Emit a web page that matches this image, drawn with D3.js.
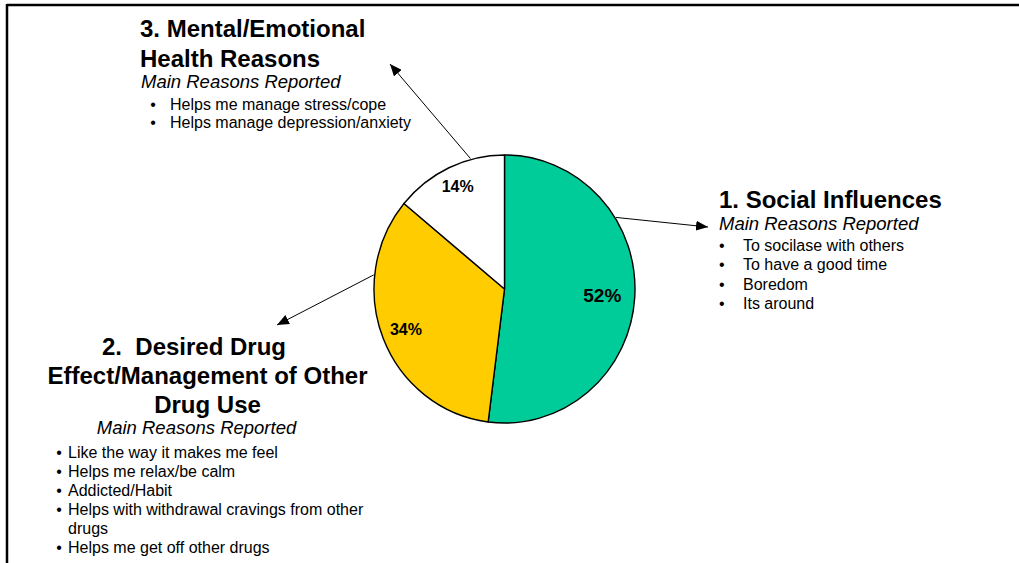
<!DOCTYPE html>
<html>
<head>
<meta charset="utf-8">
<script src="https://cdn.jsdelivr.net/npm/d3@7"></script>
<style>
  html, body { margin: 0; padding: 0; background: #fff; }
  svg { display: block; }
  text { font-family: "Liberation Sans", Arial, sans-serif; fill: #000; white-space: pre; }
</style>
</head>
<body>
<svg id="chart" width="1019" height="563"></svg>
<script>
// Reasons for use, share of respondents (%)
const categories = ["Social Influences", "Desired Drug Effect/Management of Other Drug Use", "Mental/Emotional Health Reasons"];
const values = [52, 34, 14];
const sliceColors = ["#00CC99", "#FFCC00", "#FFFFFF"];

// Callout text blocks
const socialTitle = ["1. Social Influences"];
const socialReasons = ["To socilase with others", "To have a good time", "Boredom", "Its around"];
const drugTitle = ["2.  Desired Drug", "Effect/Management of Other", "Drug Use"];
const drugReasons = [
  { text: "Like the way it makes me feel", bullet: true },
  { text: "Helps me relax/be calm", bullet: true },
  { text: "Addicted/Habit", bullet: true },
  { text: "Helps with withdrawal cravings from other", bullet: true },
  { text: "drugs", bullet: false },
  { text: "Helps me get off other drugs", bullet: true }
];
const mentalTitle = ["3. Mental/Emotional", "Health Reasons"];
const mentalReasons = ["Helps me manage stress/cope", "Helps manage depression/anxiety"];
const subTitle = "Main Reasons Reported";

const svg = d3.select("#chart");
const W = 1019, H = 563;

// frame lines (top and left)
svg.append("line").attr("x1", 7).attr("x2", W).attr("y1", 5).attr("y2", 5)
  .attr("stroke", "#000").attr("stroke-width", 2.5);
svg.append("line").attr("x1", 7).attr("x2", 7).attr("y1", 4).attr("y2", H)
  .attr("stroke", "#000").attr("stroke-width", 2.5);

// pie geometry
const cx = 504.5, cy = 289, R = 130.5, yStretch = 1.027;
const pie = d3.pie().sort(null).value(d => d).startAngle(0).endAngle(2 * Math.PI);
const arcs = pie(values);
const arc = d3.arc().innerRadius(0).outerRadius(R);

const pieG = svg.append("g")
  .attr("transform", `translate(${cx},${cy}) scale(1,${yStretch})`);

pieG.selectAll("path.slice")
  .data(arcs)
  .enter().append("path")
  .attr("class", "slice")
  .attr("d", arc)
  .attr("fill", (d, i) => sliceColors[i])
  .attr("stroke", "#000")
  .attr("stroke-width", 1.4)
  .attr("stroke-linejoin", "round");

// percentage labels
const labelRadius = [98, 106, 110];
const labelSize = [19, 16, 16];
const ptOnPie = (angle, r) => [cx + r * Math.sin(angle), cy - r * Math.cos(angle) * yStretch];

arcs.forEach((d, i) => {
  const mid = (d.startAngle + d.endAngle) / 2;
  const [x, y] = ptOnPie(mid, labelRadius[i]);
  svg.append("text")
    .attr("x", x).attr("y", y)
    .attr("text-anchor", "middle")
    .attr("dominant-baseline", "central")
    .attr("font-weight", "bold")
    .attr("font-size", labelSize[i])
    .text(d.data + "%");
});

// arrows from slice edges to the callouts
const defs = svg.append("defs");
defs.append("marker")
  .attr("id", "head")
  .attr("viewBox", "0 0 12 10")
  .attr("refX", 12).attr("refY", 5)
  .attr("markerWidth", 12).attr("markerHeight", 10)
  .attr("markerUnits", "userSpaceOnUse")
  .attr("orient", "auto")
  .append("path").attr("d", "M0,0 L12,5 L0,10 Z").attr("fill", "#000");

const arrows = [
  { slice: 0, angleDeg: 58, tip: [708, 227] },
  { slice: 1, angleDeg: 276, tip: [277, 325] },
  { slice: 2, angleDeg: 345, tip: [390, 64] }
];
arrows.forEach(a => {
  const [x0, y0] = ptOnPie(a.angleDeg * Math.PI / 180, R + 1);
  svg.append("line")
    .attr("x1", x0).attr("y1", y0)
    .attr("x2", a.tip[0]).attr("y2", a.tip[1])
    .attr("stroke", "#000").attr("stroke-width", 1)
    .attr("marker-end", "url(#head)");
});

// callout helpers
function titleLines(lines, x, y0, step, anchor, xs) {
  lines.forEach((t, i) => {
    svg.append("text")
      .attr("x", xs ? xs[i] : x).attr("y", y0 + i * step)
      .attr("text-anchor", anchor)
      .attr("font-weight", "bold").attr("font-size", 24)
      .text(t);
  });
}
function italicLine(x, y, anchor) {
  svg.append("text")
    .attr("x", x).attr("y", y)
    .attr("text-anchor", anchor)
    .attr("font-style", "italic").attr("font-size", 18.5)
    .text(subTitle);
}
function bulletList(items, bulletX, textX, y0, step, bulletAnchor) {
  items.forEach((it, i) => {
    const item = typeof it === "string" ? { text: it, bullet: true } : it;
    const y = y0 + i * step;
    if (item.bullet) {
      svg.append("text").attr("x", bulletX).attr("y", y)
        .attr("text-anchor", bulletAnchor).attr("font-size", 16).text("\u2022");
    }
    svg.append("text").attr("x", textX).attr("y", y)
      .attr("font-size", 16).text(item.text);
  });
}

// 1. Social Influences
titleLines(socialTitle, 719, 208, 30, "start");
italicLine(719, 230, "start");
bulletList(socialReasons, 719, 743, 251, 19.4, "start");

// 2. Desired Drug Effect
titleLines(drugTitle, 0, 355, 29, "middle", [194, 207.5, 207.5]);
italicLine(196.5, 434, "middle");
bulletList(drugReasons, 59, 68, 457.5, 19, "middle");

// 3. Mental/Emotional Health Reasons
titleLines(mentalTitle, 140, 37, 30, "start");
italicLine(141, 88, "start");
bulletList(mentalReasons, 153, 170, 110, 18, "middle");
</script>
</body>
</html>
